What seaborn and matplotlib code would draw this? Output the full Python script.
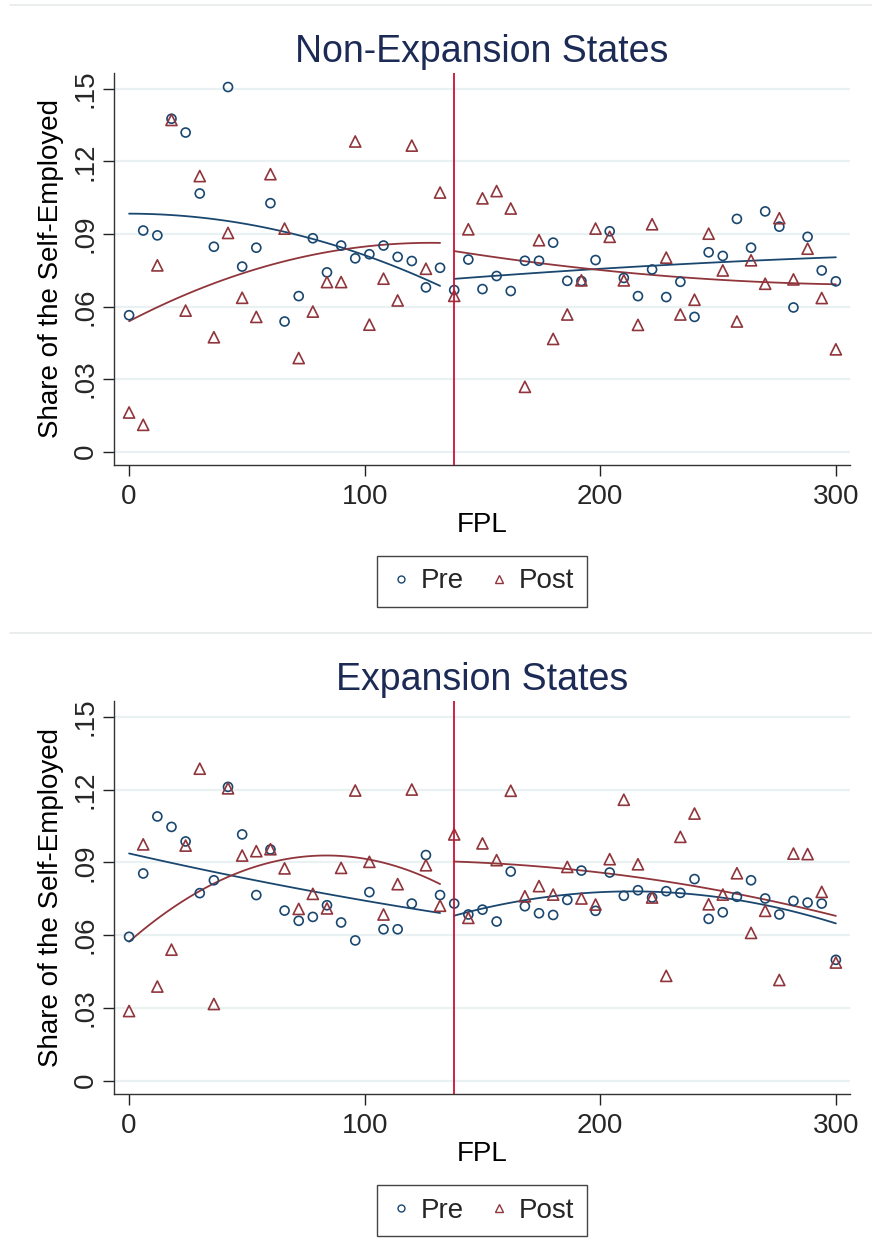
import numpy as np
import pandas as pd
import matplotlib
matplotlib.use("Agg")
import matplotlib.pyplot as plt
from matplotlib.lines import Line2D
import seaborn as sns

sns.set_theme(style="white")
plt.rcParams['font.family'] = ['Liberation Sans', 'DejaVu Sans']

# ---------------- data ----------------
fpl = list(range(0, 301, 6))
cutoff = 138

nonexp_pre = [0.0564, 0.0914, 0.0894, 0.1376, 0.1319, 0.1067, 0.0847, 0.1507, 0.0765, 0.0843,
              0.1027, 0.0538, 0.0643, 0.0882, 0.0741, 0.0852, 0.0799, 0.0816, 0.0852, 0.0805,
              0.0788, 0.0679, 0.0760, 0.0668, 0.0794, 0.0672, 0.0726, 0.0664, 0.0789, 0.0789,
              0.0864, 0.0706, 0.0705, 0.0792, 0.0911, 0.0718, 0.0643, 0.0753, 0.0639, 0.0702,
              0.0557, 0.0824, 0.0809, 0.0962, 0.0843, 0.0993, 0.0930, 0.0596, 0.0888, 0.0749,
              0.0704]
nonexp_post = [0.0162, 0.0111, 0.0770, 0.1371, 0.0583, 0.1139, 0.0473, 0.0904, 0.0636, 0.0557,
               0.1147, 0.0922, 0.0387, 0.0579, 0.0701, 0.0701, 0.1282, 0.0525, 0.0715, 0.0625,
               0.1265, 0.0756, 0.1071, 0.0644, 0.0919, 0.1047, 0.1077, 0.1005, 0.0268, 0.0874,
               0.0466, 0.0567, 0.0708, 0.0922, 0.0888, 0.0708, 0.0524, 0.0940, 0.0802, 0.0567,
               0.0628, 0.0901, 0.0749, 0.0538, 0.0791, 0.0694, 0.0965, 0.0712, 0.0839, 0.0635,
               0.0423]
exp_pre = [0.0593, 0.0854, 0.1089, 0.1046, 0.0986, 0.0773, 0.0826, 0.1211, 0.1015, 0.0765,
           0.0953, 0.0701, 0.0659, 0.0675, 0.0723, 0.0652, 0.0578, 0.0777, 0.0624, 0.0624,
           0.0730, 0.0930, 0.0765, 0.0730, 0.0685, 0.0705, 0.0656, 0.0862, 0.0719, 0.0690,
           0.0683, 0.0745, 0.0866, 0.0700, 0.0858, 0.0762, 0.0785, 0.0755, 0.0781, 0.0774,
           0.0831, 0.0667, 0.0694, 0.0758, 0.0826, 0.0751, 0.0685, 0.0741, 0.0734, 0.0730,
           0.0498]
exp_post = [0.0287, 0.0974, 0.0388, 0.0540, 0.0969, 0.1286, 0.0316, 0.1205, 0.0928, 0.0946,
            0.0954, 0.0875, 0.0708, 0.0770, 0.0710, 0.0877, 0.1196, 0.0902, 0.0685, 0.0810,
            0.1200, 0.0888, 0.0721, 0.1015, 0.0671, 0.0978, 0.0909, 0.1195, 0.0760, 0.0802,
            0.0767, 0.0881, 0.0751, 0.0726, 0.0913, 0.1158, 0.0892, 0.0755, 0.0432, 0.1005,
            0.1101, 0.0727, 0.0767, 0.0855, 0.0609, 0.0700, 0.0415, 0.0936, 0.0934, 0.0778,
            0.0487]

titles = ["Non-Expansion States", "Expansion States"]
series_names = ["Pre", "Post"]
y_ticks = [0, 0.03, 0.06, 0.09, 0.12, 0.15]
y_ticklabels = ["0", ".03", ".06", ".09", ".12", ".15"]
x_ticks = [0, 100, 200, 300]

# ---------------- style ----------------
c_pre = "#1a476f"
c_post = "#90353b"
c_cut = "#cc1136"
c_title = "#1c2b55"
c_grid = "#e9f1f2"

W, H = 872, 1255
fig = plt.figure(figsize=(W / 100, H / 100), dpi=100)

def fy(px):
    return 1 - px / H

axes_px = [(73, 465), (701, 1094)]
left, right = 114 / W, 850 / W

panels = [(nonexp_pre, nonexp_post), (exp_pre, exp_post)]

for i, ((pre, post), (top, bot)) in enumerate(zip(panels, axes_px)):
    ax = fig.add_axes([left, fy(bot), right - left, (bot - top) / H])
    df = pd.DataFrame({"FPL": fpl, "Pre": pre, "Post": post})
    df["side"] = np.where(df["FPL"] < cutoff, "L", "R")

    for y_ in y_ticks:
        ax.axhline(y_, color=c_grid, lw=1.6, zorder=0)

    for name, col, mk, s in [("Pre", c_pre, "o", 42), ("Post", c_post, "^", 64)]:
        sns.scatterplot(data=df, x="FPL", y=name, ax=ax, marker=mk, s=s,
                        color=col, facecolor="none", edgecolor=col, linewidth=1.2,
                        zorder=3, legend=False)
        for side in ["L", "R"]:
            sub = df[df["side"] == side]
            sns.regplot(data=sub, x="FPL", y=name, ax=ax, order=2, ci=None,
                        scatter=False, color=col, line_kws={"lw": 1.3, "zorder": 2})

    ax.axvline(cutoff, color=c_cut, lw=1.3, zorder=4)

    ax.set_xlim(-6.4, 306)
    ax.set_ylim(-0.0055, 0.1565)
    ax.set_yticks(y_ticks)
    ax.set_yticklabels(y_ticklabels, rotation=90, va="center")
    ax.set_xticks(x_ticks)
    ax.tick_params(axis="both", labelsize=20, length=8, width=1, color="#222222",
                   direction="out", left=True, bottom=True)
    ax.tick_params(axis="y", pad=3)
    ax.tick_params(axis="x", pad=6)
    ax.set_xlabel("FPL", fontsize=20, labelpad=1, color="black")
    ax.set_ylabel("Share of the Self-Employed", fontsize=20, labelpad=6, color="black")
    ax.set_title(titles[i], fontsize=27, color=c_title, pad=8)
    for sp in ["top", "right"]:
        ax.spines[sp].set_visible(False)
    for sp in ["left", "bottom"]:
        ax.spines[sp].set_color("#333333")
        ax.spines[sp].set_linewidth(1.0)
    ax.grid(False)

    handles = [Line2D([], [], marker="o", ls="none", ms=5, mfc="none", mec=c_pre, mew=1.0),
               Line2D([], [], marker="^", ls="none", ms=6, mfc="none", mec=c_post, mew=1.0)]
    leg = ax.legend(handles, series_names, loc="upper center", bbox_to_anchor=(0.5, -0.232),
                    borderaxespad=0, ncol=2, fontsize=20, frameon=True, fancybox=False,
                    framealpha=1, edgecolor="#444444", handletextpad=0.3,
                    columnspacing=0.9, handlelength=0.8, borderpad=0.45)
    leg.get_frame().set_linewidth(1.0)

# separator lines between image parts
for ypx in [5, 633]:
    fig.add_artist(Line2D([10 / W, 1], [fy(ypx), fy(ypx)], color="#e6ebeb", lw=1.2))

fig.savefig("out.png", dpi=100, facecolor="white")
